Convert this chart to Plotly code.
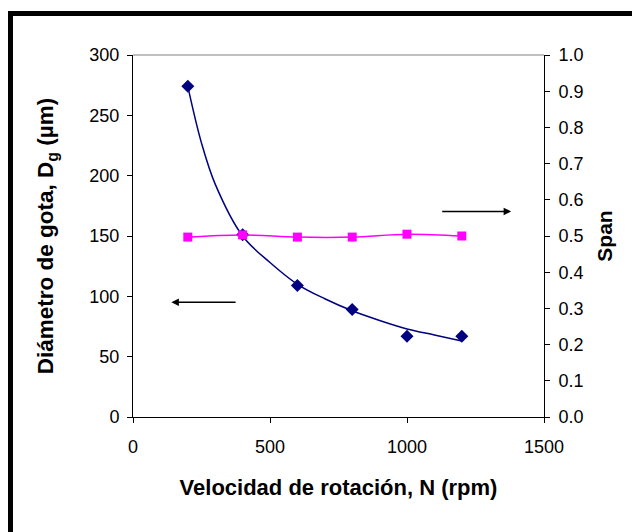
import plotly.graph_objects as go

# Data
rpm = [200, 400, 600, 800, 1000, 1200]
diam = [274, 151, 109, 89, 67, 67]
span = [0.497, 0.503, 0.497, 0.497, 0.505, 0.50]

# Power trend line
trend_x = [200, 250, 300, 400, 500, 600, 700, 800, 900, 1000, 1100, 1200]
trend_y = [274, 227, 193, 150, 128, 110, 98, 88, 80, 73, 68, 63]

x_ticks = [0, 500, 1000, 1500]
y_ticks = [0, 50, 100, 150, 200, 250, 300]
y2_ticks = [0.0, 0.1, 0.2, 0.3, 0.4, 0.5, 0.6, 0.7, 0.8, 0.9, 1.0]

FONT = "Liberation Sans"
NAVY = "#000080"
PINK = "#FF00FF"

fig = go.Figure()
fig.add_trace(go.Scatter(x=rpm, y=diam, mode="markers",
                         marker=dict(symbol="diamond", size=10, color=NAVY),
                         showlegend=False, hoverinfo="skip"))
fig.add_trace(go.Scatter(x=trend_x, y=trend_y, mode="lines",
                         line=dict(color=NAVY, width=1.5, shape="spline"),
                         showlegend=False, hoverinfo="skip"))
fig.add_trace(go.Scatter(x=rpm, y=span, mode="lines+markers", yaxis="y2",
                         line=dict(color=PINK, width=1.5, shape="spline"),
                         marker=dict(symbol="square", size=9, color=PINK),
                         showlegend=False, hoverinfo="skip"))

ml, mr, mt, mb = 133, 88, 55, 115
W, H = 632, 532
pw = W - ml - mr
ph = H - mt - mb

fig.update_layout(
    width=W, height=H,
    margin=dict(l=ml, r=mr, t=mt, b=mb, autoexpand=False),
    paper_bgcolor="white", plot_bgcolor="white",
    font=dict(family=FONT, size=18, color="black"),
    xaxis=dict(range=[0, 1500], tickvals=x_ticks, ticktext=[str(v) for v in x_ticks],
               showgrid=False, zeroline=False, showline=True, linecolor="black",
               linewidth=1, ticks="outside", ticklen=5, tickcolor="black",
               tickfont=dict(size=18), ticklabelstandoff=8,
               title=dict(text="<b>Velocidad de rotación, N (rpm)</b>",
                          font=dict(size=22), standoff=24)),
    yaxis=dict(range=[0, 300], tickvals=y_ticks, showgrid=False, zeroline=False,
               showline=True, linecolor="black", linewidth=1, ticks="outside",
               ticklen=5, tickcolor="black", tickfont=dict(size=18),
               ticklabelstandoff=4,
               title=dict(text="<b>Diámetro de gota, D<sub>g</sub> (µm)</b>",
                          font=dict(size=22.5), standoff=29)),
    yaxis2=dict(range=[0, 1.0], tickvals=y2_ticks,
                ticktext=[f"{v:.1f}" for v in y2_ticks],
                overlaying="y", side="right", showgrid=False, zeroline=False,
                showline=True, linecolor="black", linewidth=1, ticks="outside",
                ticklen=5, tickcolor="black", tickfont=dict(size=18),
                ticklabelstandoff=5,
                title=dict(text="<b>Span</b>", font=dict(size=21), standoff=14)),
)

# top border of plot area (grey) and outer black frame
fig.add_shape(type="line", xref="paper", yref="paper", x0=0, x1=1, y0=1, y1=1,
              line=dict(color="#808080", width=1))
fx0 = (10.5 - ml) / pw
fy1 = 1 + (mt - 13.5) / ph
fig.add_shape(type="rect", xref="paper", yref="paper", x0=fx0, x1=2, y0=-2, y1=fy1,
              line=dict(color="black", width=5), fillcolor="rgba(0,0,0,0)")

# arrows
fig.add_annotation(x=140, y=95, ax=380, ay=95, xref="x", yref="y", axref="x", ayref="y",
                   text="", showarrow=True, arrowhead=2, arrowsize=1, arrowwidth=1.5,
                   arrowcolor="black")
fig.add_annotation(x=1380, y=0.568, ax=1123, ay=0.568, xref="x", yref="y2",
                   axref="x", ayref="y2", text="", showarrow=True, arrowhead=2,
                   arrowsize=1, arrowwidth=1.5, arrowcolor="black")

fig.write_html("out.html")
